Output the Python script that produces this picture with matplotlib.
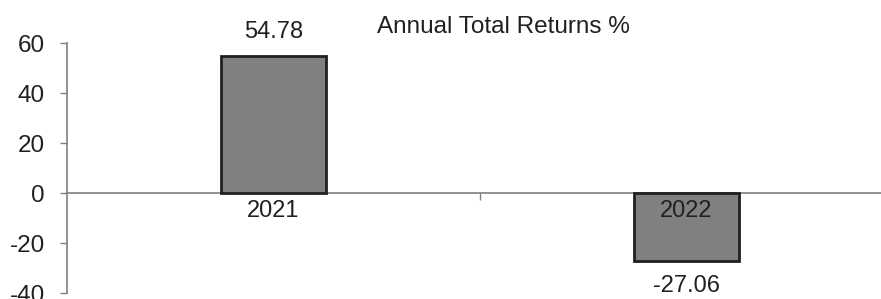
import matplotlib
matplotlib.use("Agg")
import matplotlib.pyplot as plt

# data
years = ["2021", "2022"]
returns = [54.78, -27.06]
y_ticks = [-40, -20, 0, 20, 40, 60]

TEXT = "#231f20"
AXIS = "#808080"
BAR = "#808080"

plt.rcParams["font.family"] = ["Liberation Sans", "DejaVu Sans"]

fig = plt.figure(figsize=(8.81, 2.99), dpi=100)
ax = fig.add_axes([67 / 881, 6 / 299, 1 - 67 / 881, 250 / 299])

x = list(range(len(years)))
ax.bar(x, returns, width=0.252, color=BAR, edgecolor=TEXT, linewidth=2, zorder=3)

ax.set_xlim(-0.5, 1.471)
ax.set_ylim(-40, 60)
ax.set_yticks(y_ticks)
ax.set_yticklabels([str(v) for v in y_ticks], fontsize=17.5, color=TEXT)

ax.spines["top"].set_visible(False)
ax.spines["right"].set_visible(False)
ax.spines["bottom"].set_position(("data", 0))
ax.spines["bottom"].set_color(AXIS)
ax.spines["left"].set_color(AXIS)
ax.spines["bottom"].set_linewidth(1.2)
ax.spines["left"].set_linewidth(1.2)

# single tick between the two categories
ax.set_xticks([0.5])
ax.set_xticklabels([""])
ax.tick_params(axis="x", direction="out", length=5, color=AXIS, width=1)
ax.tick_params(axis="y", direction="out", length=5, color=AXIS, width=1, pad=11)

# category names just under the zero line
for xi, name in zip(x, years):
    ax.annotate(name, (xi, 0), xytext=(0, -13), textcoords="offset points",
                ha="center", va="center", fontsize=17, color=TEXT, zorder=4)

# value labels
for xi, val in zip(x, returns):
    off = 17 if val >= 0 else -18.5
    ax.annotate(f"{val:.2f}", (xi, val), xytext=(0, off), textcoords="offset points",
                ha="center", va="center", fontsize=17, color=TEXT, clip_on=False)

fig.text(503 / 881, 1 - 27 / 299, "Annual Total Returns %",
         ha="center", va="center", fontsize=17.5, color=TEXT)

fig.savefig("out.png", dpi=100)
